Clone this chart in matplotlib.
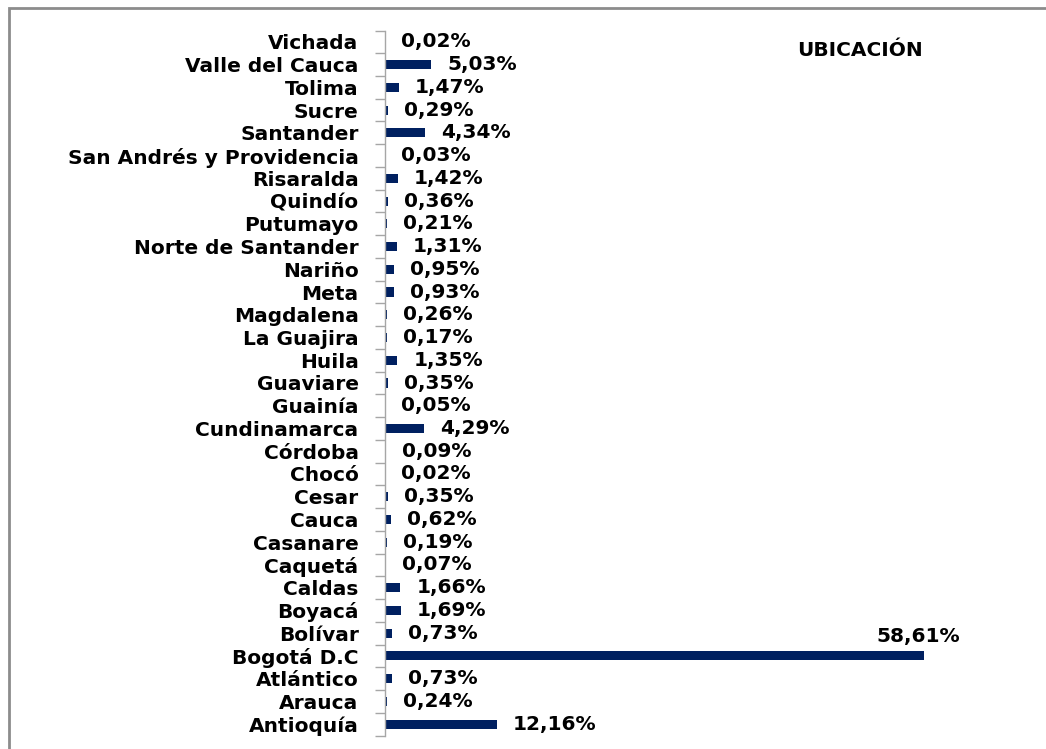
import matplotlib
matplotlib.use("Agg")
import matplotlib.pyplot as plt
from matplotlib.patches import Rectangle
import numpy as np

# data, bottom to top as drawn
departamentos = ["Antioquía", "Arauca", "Atlántico", "Bogotá D.C", "Bolívar",
                 "Boyacá", "Caldas", "Caquetá", "Casanare", "Cauca", "Cesar",
                 "Chocó", "Córdoba", "Cundinamarca", "Guainía", "Guaviare",
                 "Huila", "La Guajira", "Magdalena", "Meta", "Nariño",
                 "Norte de Santander", "Putumayo", "Quindío", "Risaralda",
                 "San Andrés y Providencia", "Santander", "Sucre", "Tolima",
                 "Valle del Cauca", "Vichada"]
porcentajes = [12.16, 0.24, 0.73, 58.61, 0.73,
               1.69, 1.66, 0.07, 0.19, 0.62, 0.35,
               0.02, 0.09, 4.29, 0.05, 0.35,
               1.35, 0.17, 0.26, 0.93, 0.95,
               1.31, 0.21, 0.36, 1.42,
               0.03, 4.34, 0.29, 1.47,
               5.03, 0.02]
titulo = "UBICACIÓN"

W, H = 1046, 749
fs = 14.5
plt.rcParams['font.family'] = ['DejaVu Sans']
plt.rcParams['font.weight'] = 'bold'

fig = plt.figure(figsize=(W / 100, H / 100), dpi=100)
fig.patch.set_facecolor("white")

# frame around the chart (cut off at right and bottom)
fig.patches.append(Rectangle((9 / W, -0.1), 1.2, 1.1 - 8.5 / H,
                             transform=fig.transFigure, fill=False,
                             edgecolor="#8c8c8c", linewidth=2))

left = 385 / W
bottom = 1 - 735.5 / H
top = 1 - 30.5 / H
ax = fig.add_axes([left, bottom, 1 - left, top - bottom])

y = np.arange(len(departamentos))
ax.barh(y, porcentajes, height=0.4, color="#002060")

ax.set_xlim(0, (W - 385) / 9.2)
ax.set_ylim(-0.5, len(departamentos) - 0.5)

for s in ["top", "right", "bottom"]:
    ax.spines[s].set_visible(False)
ax.spines["left"].set_color("#a6a6a6")
ax.spines["left"].set_linewidth(1)
ax.set_xticks([])

ax.set_yticks(y)
ax.set_yticklabels(departamentos, fontsize=fs, fontweight="bold")
ax.set_yticks(np.arange(len(departamentos) + 1) - 0.5, minor=True)
ax.tick_params(axis="y", which="major", length=0, pad=19)
ax.tick_params(axis="y", which="minor", length=7, color="#a6a6a6", width=1)

for yi, v in zip(y, porcentajes):
    txt = f"{v:.2f}%".replace(".", ",")
    if v > 50:
        ax.annotate(txt, (v, yi), xytext=(-4.3, 13.7), textcoords="offset points",
                    ha="center", va="center", fontsize=fs, fontweight="bold")
    else:
        ax.annotate(txt, (v, yi), xytext=(11.5, 0), textcoords="offset points",
                    ha="left", va="center", fontsize=fs, fontweight="bold")

fig.text(860 / W, 1 - 50 / H, titulo, ha="center", va="center",
         fontsize=fs, fontweight="bold")

fig.savefig("out.png", dpi=100)
